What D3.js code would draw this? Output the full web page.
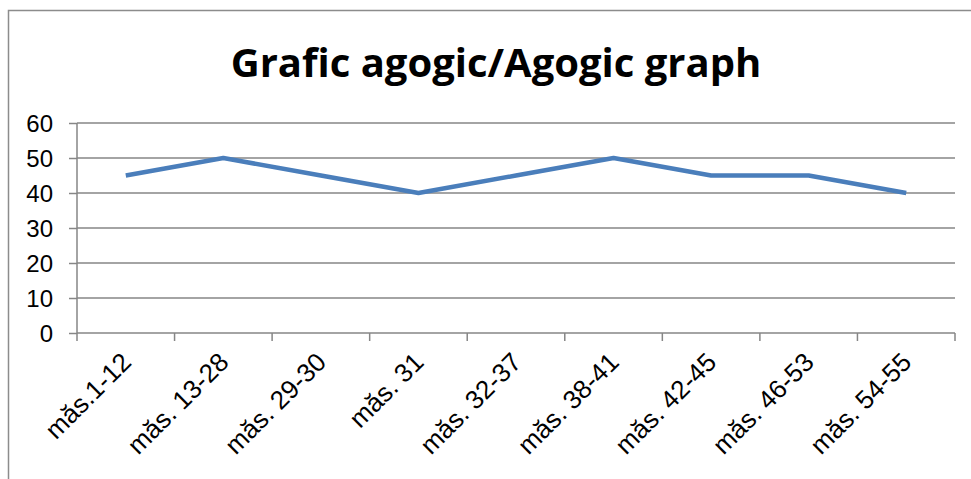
<!DOCTYPE html>
<html>
<head>
<meta charset="utf-8">
<script src="https://cdn.jsdelivr.net/npm/d3@7"></script>
<style>
  body { margin: 0; background: #fff; }
  svg { display: block; font-family: "Liberation Sans", Arial, sans-serif; }
</style>
</head>
<body>
<svg id="chart" width="971" height="479"></svg>
<script>
// data
const categories = ['măs.1-12','măs. 13-28','măs. 29-30','măs. 31','măs. 32-37','măs. 38-41','măs. 42-45','măs. 46-53','măs. 54-55'];
const values = [45, 50, 45, 40, 45, 50, 45, 45, 40];
const yTicks = [0, 10, 20, 30, 40, 50, 60];
const title = 'Grafic agogic/Agogic graph';

const svg = d3.select('#chart');
const margin = {top:123, left:77, right:16, bottom:146};
const W = +svg.attr('width'), H = +svg.attr('height');
const innerW = W - margin.left - margin.right, innerH = H - margin.top - margin.bottom;

// outer frame (right and bottom edges run off the picture)
svg.append('path')
  .attr('d', `M8.5,${H+5} V10.5 H${W+5}`)
  .attr('fill','none').attr('stroke','#8c8c8c').attr('stroke-width',1.5);

svg.append('text')
  .attr('x', 496).attr('y', 77)
  .attr('text-anchor','middle')
  .attr('font-family','"Open Sans", "Liberation Sans", sans-serif')
  .attr('font-weight','bold').attr('font-size', 40)
  .text(title);

const g = svg.append('g').attr('transform', `translate(${margin.left},${margin.top})`);

const x = d3.scaleBand().domain(categories).range([0, innerW]);
const y = d3.scaleLinear().domain([0, 60]).range([innerH, 0]);

// gridlines
g.append('g').selectAll('line').data(yTicks.filter(d => d > 0)).join('line')
  .attr('x1', 0).attr('x2', innerW)
  .attr('y1', d => y(d)).attr('y2', d => y(d))
  .attr('stroke','#868686').attr('stroke-width',1.5);

// y axis
const yAxis = g.append('g').call(d3.axisLeft(y).tickValues(yTicks).tickSize(8).tickPadding(16));
yAxis.attr('font-size', null).attr('font-family', null);
yAxis.select('.domain').attr('stroke','#868686').attr('stroke-width',1.5).attr('d', `M0,0V${innerH}`);
yAxis.selectAll('.tick line').attr('stroke','#868686').attr('stroke-width',1.5);
yAxis.selectAll('text').style('font-size','24px').attr('fill','#000').attr('dy','0.36em');

// x axis
const xAxis = g.append('g').attr('transform', `translate(0,${innerH})`)
  .call(d3.axisBottom(x).tickSize(0).tickFormat(''));
xAxis.attr('font-size', null).attr('font-family', null);
xAxis.select('.domain').attr('stroke','#868686').attr('stroke-width',1.5).attr('d', `M0,0H${innerW}`);
xAxis.selectAll('.tick').remove();
xAxis.selectAll('line.sep').data(d3.range(categories.length + 1)).join('line')
  .attr('class','sep')
  .attr('x1', i => i * x.step()).attr('x2', i => i * x.step())
  .attr('y1', 0).attr('y2', 8)
  .attr('stroke','#868686').attr('stroke-width',1.5);
xAxis.selectAll('text.lbl').data(categories).join('text')
  .attr('class','lbl')
  .attr('transform', d => `translate(${x(d) + x.bandwidth()/2 - 6},${18}) rotate(-45)`)
  .attr('text-anchor','end')
  .attr('dy','0.7em')
  .style('font-size','26px').attr('fill','#000')
  .text(d => d);

// line
const line = d3.line()
  .x((d, i) => x(categories[i]) + x.bandwidth()/2)
  .y(d => y(d));
g.append('path').datum(values)
  .attr('d', line)
  .attr('fill','none').attr('stroke','#4a7ebb').attr('stroke-width',4.5)
  .attr('stroke-linejoin','round');
</script>
</body>
</html>
